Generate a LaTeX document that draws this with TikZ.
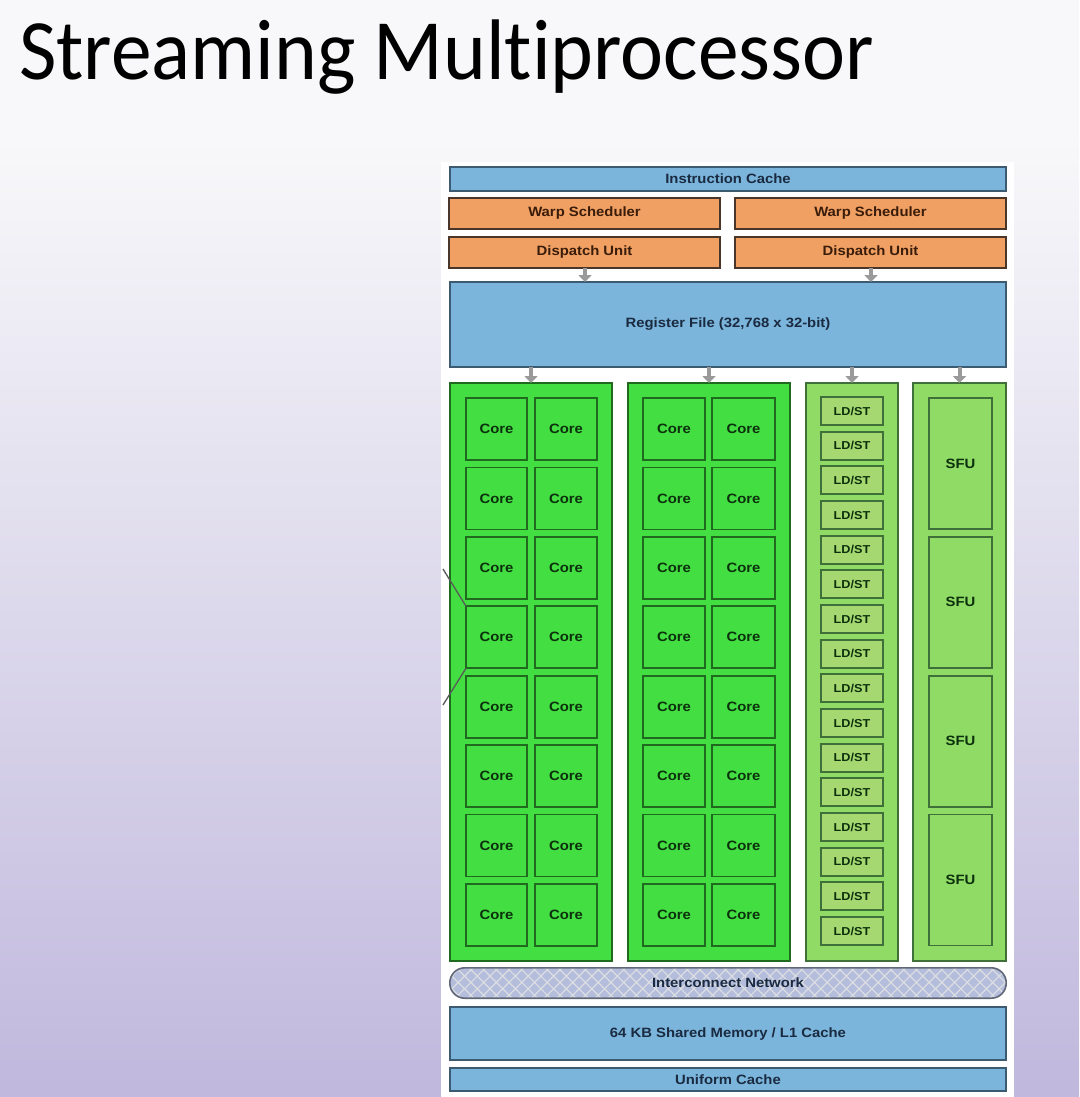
\documentclass[tikz,border=0pt]{standalone}
\usepackage{fontspec}
\usetikzlibrary{arrows.meta,patterns.meta}
\newfontfamily\titlefont[Ligatures=NoCommon]{Carlito}
\newfontfamily\labfont[FakeStretch=1.1]{Liberation Sans}
\definecolor{bgtop}{HTML}{F8F8FA}
\definecolor{bgbot}{HTML}{C0B8DD}
\definecolor{cblue}{HTML}{7BB5DB}
\definecolor{cblueb}{HTML}{3C5A70}
\definecolor{corange}{HTML}{F0A062}
\definecolor{coranb}{HTML}{4A3628}
\definecolor{cgreen}{HTML}{42DE42}
\definecolor{cgreenb}{HTML}{1F6A1F}
\definecolor{clgreen}{HTML}{90DA66}
\definecolor{clgreenb}{HTML}{40703A}
\definecolor{cldst}{HTML}{A6D872}
\definecolor{cnet}{HTML}{B4BEDC}
\definecolor{cnetb}{HTML}{606878}
\definecolor{carrow}{HTML}{9A9A9A}
\definecolor{tblue}{HTML}{1A2A40}
\definecolor{tgreen}{HTML}{0C300C}
\definecolor{torange}{HTML}{3A1C0A}
\newcommand\bx[7]{\node[#2, minimum width={#5-#3}, minimum height={#6-#4}, inner sep=0pt, outer sep=0pt] (#1) at ({(#3+#5)/2},{(#4+#6)/2}) {#7};}
\tikzset{
  lab/.style={font=\labfont\bfseries\fontsize{13.5}{15}\selectfont},
  bluebox/.style={lab, draw=cblueb, line width=1.6pt, fill=cblue, text=tblue},
  orangebox/.style={lab, draw=coranb, line width=1.6pt, fill=corange, text=torange},
  corecol/.style={draw=cgreenb, line width=1.4pt, fill=cgreen},
  corebox/.style={lab, draw=cgreenb, line width=1.8pt, fill=cgreen, text=tgreen},
  lcol/.style={draw=clgreenb, line width=1.4pt, fill=clgreen},
  ldbox/.style={lab, font=\labfont\bfseries\fontsize{11.5}{13}\selectfont, draw=clgreenb, line width=1.8pt, fill=cldst, text=tgreen},
  sfubox/.style={lab, draw=clgreenb, line width=1.8pt, fill=clgreen, text=tgreen},
  flow/.style={draw=carrow, line width=4pt, -{Triangle[width=13pt,length=7pt]}},
  callout/.style={draw=black!65, line width=1.3pt},
}
\begin{document}
\begin{tikzpicture}[x=1pt,y=-1pt]
\useasboundingbox (0,0) rectangle (1079,1097);
\fill[bgtop] (0,0) rectangle (1079,140);
\shade[top color=bgtop, bottom color=bgbot] (0,139) rectangle (1079,1097);
% title
\node[anchor=base west, inner sep=0pt, xscale=0.947] (title) at (19,80) {\titlefont\fontsize{86}{90}\selectfont Streaming Multiprocessor};
% panel
\fill[white] (441,162) rectangle (1014,1097);
% top blocks
\bx{icache}{bluebox}{450}{167}{1006}{191}{Instruction Cache}
\bx{warpL}{orangebox}{449}{198}{720}{229}{Warp Scheduler}
\bx{warpR}{orangebox}{735}{198}{1006}{229}{Warp Scheduler}
\bx{dispL}{orangebox}{449}{237}{720}{268}{Dispatch Unit}
\bx{dispR}{orangebox}{735}{237}{1006}{268}{Dispatch Unit}
\bx{reg}{bluebox}{450}{282}{1006}{367}{Register File (32,768 x 32-bit)}
% columns
\bx{col1}{corecol}{450}{383}{612}{961}{}
\bx{col2}{corecol}{628}{383}{790}{961}{}
\bx{col3}{lcol}{806}{383}{898}{961}{}
\bx{col4}{lcol}{913}{383}{1006}{961}{}
% cores
\foreach \r in {0,...,7}{
  \pgfmathsetmacro\yt{398+69.4*\r}
  \pgfmathsetmacro\yb{\yt+62}
  \bx{c1\r a}{corebox}{466}{\yt}{527}{\yb}{Core}
  \bx{c1\r b}{corebox}{535}{\yt}{597}{\yb}{Core}
  \bx{c2\r a}{corebox}{643}{\yt}{705}{\yb}{Core}
  \bx{c2\r b}{corebox}{712}{\yt}{775}{\yb}{Core}
}
% LD/ST
\foreach \r in {0,...,15}{
  \pgfmathsetmacro\yt{397+34.67*\r}
  \pgfmathsetmacro\yb{\yt+28}
  \bx{ld\r}{ldbox}{821}{\yt}{883}{\yb}{LD/ST}
}
% SFU
\foreach \r in {0,...,3}{
  \pgfmathsetmacro\yt{398+138.8*\r}
  \pgfmathsetmacro\yb{\yt+131}
  \bx{sfu\r}{sfubox}{929}{\yt}{992}{\yb}{SFU}
}
% bottom blocks
\node[minimum width=556pt, minimum height=30pt, inner sep=0pt, rounded corners=15pt, fill=cnet] (net) at (728,983) {};
\fill[pattern={Lines[angle=45,distance=9pt,line width=1.2pt]}, pattern color=cnetb!22, rounded corners=15pt] (net.north west) rectangle (net.south east);
\fill[pattern={Lines[angle=-45,distance=9pt,line width=1.2pt]}, pattern color=cnetb!22, rounded corners=15pt] (net.north west) rectangle (net.south east);
\draw[cnetb, line width=1.6pt, rounded corners=15pt] (net.north west) rectangle (net.south east);
\node[lab, text=tblue] (netlab) at (net.center) {Interconnect Network};
\bx{smem}{bluebox}{450}{1007}{1006}{1060}{64 KB Shared Memory / L1 Cache}
\bx{ucache}{bluebox}{450}{1068}{1006}{1091}{Uniform Cache}
% arrows
\draw[flow] (dispL.south -| 585,0) -- (reg.north -| 585,0);
\draw[flow] (dispR.south -| 871,0) -- (reg.north -| 871,0);
\draw[flow] (reg.south -| col1.north) -- (col1.north);
\draw[flow] (reg.south -| col2.north) -- (col2.north);
\draw[flow] (reg.south -| col3.north) -- (col3.north);
\draw[flow] (reg.south -| col4.north) -- (col4.north);
% callout lines
\coordinate (p1) at (443,569);
\coordinate (p2) at (443,705);
\draw[callout] (p1) -- (c13a.north west);
\draw[callout] (c13a.south west) -- (p2);
\end{tikzpicture}
\end{document}
